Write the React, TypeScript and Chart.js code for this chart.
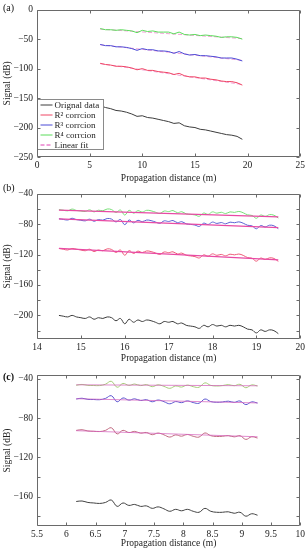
import React, { useEffect, useRef } from "react";
import { Chart, registerables } from "chart.js";
Chart.register(...registerables);

const FONT = "'Liberation Serif', 'Times New Roman', serif";

// ---------- Panel (a) ----------
const DIST_A = [6, 6.5, 7, 7.5, 8, 8.5, 9, 9.5, 10, 10.5, 11, 11.5, 12, 12.5, 13, 13.5, 14, 14.5, 15, 15.5, 16, 16.5, 17, 17.5, 18, 18.5, 19, 19.5];
const ORIG_A = [-163, -166, -168, -171, -172, -174, -177, -181, -180, -183, -184, -186, -188, -190, -193, -192, -197, -199, -200, -203, -204, -206, -208, -210, -212, -213, -215, -220];
const R2_A = [-91, -93, -94, -96, -96, -97, -99, -102, -100, -103, -103, -105, -106, -107, -110, -108, -112, -114, -114, -116, -116, -118, -119, -121, -122, -122, -124, -128];
const R3_A = [-59, -61, -61, -63, -63, -64, -66, -69, -66, -68, -68, -70, -70, -71, -74, -71, -75, -77, -76, -78, -78, -79, -80, -82, -82, -82, -84, -87];
const R4_A = [-32, -34, -34, -35, -34, -35, -36, -39, -35, -37, -36, -38, -38, -38, -41, -38, -42, -43, -42, -44, -43, -44, -45, -47, -46, -46, -47, -50];
const FIT_X_A = [6, 19.5];
const FIT_R2_A = [-91.5, -127];
const FIT_R3_A = [-59.5, -86];
const FIT_R4_A = [-33, -49];

// ---------- Panel (b) ----------
const DIST_B_START = 14.5;
const DIST_B_STEP = 0.1;
const ORIG_B = [-200, -201, -202, -200, -202, -203, -204, -202, -205, -203, -204, -202, -203, -207, -204, -211, -205, -209, -206, -208, -206, -207, -209, -211, -208, -209, -208, -211, -210, -213, -214, -215, -217, -213, -215, -212, -214, -213, -215, -213, -214, -213, -215, -218, -219, -223, -219, -221, -219, -220, -224];
const R2_B = [-112, -113, -114, -112, -113, -114, -115, -113, -116, -114, -115, -112.5, -113.3, -117.2, -114, -120.9, -114.8, -118.6, -115.5, -117.3, -115.2, -116.1, -117.9, -119.8, -116.6, -117.5, -116.4, -119.2, -118.1, -120.9, -121.8, -122.7, -124.5, -120.4, -122.2, -119.1, -121, -119.8, -121.7, -119.5, -120.4, -119.3, -121.1, -124, -124.8, -128.7, -124.6, -126.4, -124.3, -125.1, -129];
const R3_B = [-73, -73.8, -74.6, -72.3, -74.1, -74.9, -75.7, -73.5, -76.2, -74, -74.8, -72.6, -73.4, -77.1, -73.9, -80.7, -74.5, -78.3, -75, -76.8, -74.6, -75.4, -77.2, -78.9, -75.7, -76.5, -75.3, -78.1, -76.8, -79.6, -80.4, -81.2, -83, -78.7, -80.5, -77.3, -79.1, -77.9, -79.6, -77.4, -78.2, -77, -78.8, -81.5, -82.3, -86.1, -81.9, -83.7, -81.4, -82.2, -86];
const R4_B = [-61, -61.7, -62.5, -60.2, -62, -62.7, -63.4, -61.2, -63.9, -61.7, -62.4, -60.1, -60.9, -64.6, -61.4, -68.1, -61.8, -65.6, -62.3, -64.1, -61.8, -62.5, -64.3, -66, -62.8, -63.5, -62.2, -65, -63.7, -66.5, -67.2, -67.9, -69.7, -65.4, -67.2, -63.9, -65.6, -64.4, -66.1, -63.9, -64.6, -63.3, -65.1, -67.8, -68.6, -72.3, -68, -69.8, -67.5, -68.3, -72];
const FIT_X_B = [14.5, 19.5];
const FIT_R2_B = [-112, -127];
const FIT_R3_B = [-73, -84.5];
const FIT_R4_B = [-61.5, -70.5];

// ---------- Panel (c) ----------
const DIST_C_START = 6.17;
const DIST_C_STEP = 0.1;
const ORIG_C = [-165, -164.5, -166, -166.5, -167, -166, -163.5, -170, -166.5, -169, -168, -170, -169.5, -172, -170.5, -172.5, -175, -173, -174.5, -173, -175, -176, -172, -175, -176, -176, -175.5, -177, -176, -180, -177.5, -179];
const R2_C = [-92.5, -91.8, -93.1, -93.4, -93.7, -92.5, -89.8, -96.1, -92.4, -94.7, -93.5, -95.3, -94.6, -96.9, -95.2, -97, -99.3, -97.1, -98.4, -96.7, -98.5, -99.3, -95.1, -97.9, -98.7, -98.5, -97.8, -99.1, -97.9, -101.7, -99, -100.3];
const R3_C = [-60.5, -59.7, -60.9, -61, -61.2, -59.9, -57.1, -63.3, -59.4, -61.6, -60.3, -62, -61.2, -63.3, -61.5, -63.2, -65.4, -63.1, -64.2, -62.4, -64.1, -64.8, -60.5, -63.1, -63.8, -63.5, -62.7, -63.9, -62.5, -66.2, -63.4, -64.6];
const R4_C = [-46.5, -45.6, -46.6, -46.7, -46.8, -45.4, -42.4, -48.5, -44.6, -46.6, -45.2, -46.8, -45.8, -47.9, -46, -47.6, -49.6, -47.2, -48.3, -46.3, -47.9, -48.5, -44, -46.6, -47.2, -46.8, -45.8, -46.9, -45.5, -49, -46.1, -47.2];
const FIT_X_C = [6.17, 9.27];
const FIT_R2_C = [-92.8, -99];
const FIT_R3_C = [-60.2, -64.5];
const FIT_R4_C = [-46, -47];

const LEGEND_LABELS = ["Orignal data", "R\u00B2 corrcion", "R\u00B3 corrcion", "R\u2074 corrcion", "Linear fit"];

const C_BLACK = "#3c3c3c";
const C_RED = "#ef4664";
const C_BLUE = "#4b4bd6";
const C_GREEN = "#5bdc5b";
const C_FIT = "#e040b4";

const gridX = (start: number, step: number, n: number) =>
  Array.from({ length: n }, (_, i) => Math.round((start + i * step) * 100) / 100);

const pts = (xs: number[], ys: number[]) => ys.map((y, i) => ({ x: xs[i], y }));

const fmt = (v: number) => {
  const r = Math.round(v * 10) / 10;
  const s = String(Math.abs(r));
  return r < 0 ? "\u2212" + s : s;
};

const line = (xs: number[], ys: number[], color: string, tension: number, width = 1, dash: number[] = []) => ({
  data: pts(xs, ys),
  borderColor: color,
  backgroundColor: color,
  borderWidth: width,
  borderDash: dash,
  pointRadius: 0,
  tension,
  fill: false,
});

const framePlugin = (label: string, labelY: number, bold: boolean) => ({
  id: "frame-" + label,
  afterDraw(chart: any) {
    const { ctx, chartArea } = chart;
    const xs = chart.scales.x;
    const ys = chart.scales.y;
    const l = Math.round(chartArea.left) + 0.5;
    const r = Math.round(chartArea.right) - 0.5;
    const t = Math.round(chartArea.top) + 0.5;
    const b = Math.round(chartArea.bottom) - 0.5;
    ctx.save();
    ctx.strokeStyle = "#6a6a6a";
    ctx.lineWidth = 1;
    ctx.beginPath();
    ctx.rect(l, t, r - l, b - t);
    const tl = 3;
    xs.ticks.forEach((tk: any) => {
      const px = Math.round(xs.getPixelForValue(tk.value)) + 0.5;
      ctx.moveTo(px, b);
      ctx.lineTo(px, b - tl);
      ctx.moveTo(px, t);
      ctx.lineTo(px, t + tl);
    });
    ys.ticks.forEach((tk: any) => {
      const py = Math.round(ys.getPixelForValue(tk.value)) + 0.5;
      ctx.moveTo(l, py);
      ctx.lineTo(l + tl, py);
      ctx.moveTo(r, py);
      ctx.lineTo(r - tl, py);
    });
    ctx.stroke();
    ctx.fillStyle = "#111";
    ctx.font = (bold ? "bold " : "") + "10px " + FONT;
    ctx.textBaseline = "middle";
    ctx.textAlign = "left";
    ctx.fillText(label, 3, labelY);
    ctx.restore();
  },
});

const legendPlugin = {
  id: "legendA",
  afterDatasetsDraw(chart: any) {
    const { ctx, chartArea } = chart;
    const x0 = Math.round(chartArea.left) + 0.5;
    const y1 = Math.round(chartArea.bottom) - 8 + 0.5;
    const w = 66;
    const h = 50;
    const y0 = y1 - h;
    ctx.save();
    ctx.fillStyle = "#ffffff";
    ctx.fillRect(x0, y0, w, h);
    ctx.strokeStyle = "#8a8a8a";
    ctx.lineWidth = 1;
    ctx.strokeRect(x0, y0, w, h);
    const colors = [C_BLACK, C_RED, C_BLUE, C_GREEN, C_FIT];
    ctx.font = "9px " + FONT;
    ctx.textBaseline = "middle";
    ctx.textAlign = "left";
    LEGEND_LABELS.forEach((lab, i) => {
      const yy = y0 + 5.5 + i * 10;
      ctx.strokeStyle = colors[i];
      ctx.lineWidth = 1;
      ctx.setLineDash(i === 4 ? [4, 2] : []);
      ctx.beginPath();
      ctx.moveTo(x0 + 3, yy);
      ctx.lineTo(x0 + 15, yy);
      ctx.stroke();
      ctx.fillStyle = "#222";
      ctx.fillText(lab, x0 + 17, yy + 0.5);
    });
    ctx.restore();
  },
};

type PanelSpec = {
  height: number;
  padTop: number;
  xAxisH: number;
  xMin: number;
  xMax: number;
  xStep: number;
  yMin: number;
  yMax: number;
  yStep: number;
  yLabelEvery: number;
  datasets: any[];
  label: string;
  labelY: number;
  boldLabel?: boolean;
  legend?: boolean;
};

function Panel({ spec }: { spec: PanelSpec }) {
  const ref = useRef<HTMLCanvasElement | null>(null);
  useEffect(() => {
    if (!ref.current) return;
    const plugins: any[] = [framePlugin(spec.label, spec.labelY, !!spec.boldLabel)];
    if (spec.legend) plugins.push(legendPlugin);
    const chart = new Chart(ref.current, {
      type: "line",
      data: { datasets: spec.datasets },
      plugins,
      options: {
        responsive: false,
        animation: false,
        layout: { padding: { left: 0, right: 7, top: spec.padTop, bottom: 0 } },
        plugins: { legend: { display: false }, tooltip: { enabled: false } },
        scales: {
          x: {
            type: "linear",
            min: spec.xMin,
            max: spec.xMax,
            grid: { display: false, drawTicks: false },
            border: { display: false },
            afterFit: (s: any) => {
              s.height = spec.xAxisH;
            },
            ticks: {
              stepSize: spec.xStep,
              padding: 3,
              maxRotation: 0,
              autoSkip: false,
              includeBounds: false,
              color: "#222",
              font: { family: FONT, size: 9.5 },
              callback: (v: any) => fmt(Number(v)),
            },
            title: {
              display: true,
              text: "Propagation distance (m)",
              color: "#222",
              padding: { top: 0, bottom: 0 },
              font: { family: FONT, size: 9.5 },
            },
          },
          y: {
            type: "linear",
            min: spec.yMin,
            max: spec.yMax,
            grid: { display: false, drawTicks: false },
            border: { display: false },
            afterFit: (s: any) => {
              s.width = 37;
            },
            ticks: {
              stepSize: spec.yStep,
              padding: 4,
              autoSkip: false,
              includeBounds: false,
              color: "#222",
              font: { family: FONT, size: 9.5 },
              callback: (v: any) => {
                const n = Number(v);
                return Math.abs(Math.round(n) % spec.yLabelEvery) === 0 ? fmt(n) : "";
              },
            },
            title: {
              display: true,
              text: "Signal (dB)",
              color: "#222",
              padding: { top: 2, bottom: 0 },
              font: { family: FONT, size: 9.5 },
            },
          },
        },
      } as any,
    });
    return () => chart.destroy();
  }, [spec]);
  return <canvas ref={ref} width={308} height={spec.height} style={{ display: "block" }} />;
}

const DIST_B = gridX(DIST_B_START, DIST_B_STEP, ORIG_B.length);
const DIST_C = gridX(DIST_C_START, DIST_C_STEP, ORIG_C.length);

const SPEC_A: PanelSpec = {
  height: 184,
  padTop: 6,
  xAxisH: 27,
  xMin: 0,
  xMax: 25,
  xStep: 5,
  yMin: -250,
  yMax: 0,
  yStep: 50,
  yLabelEvery: 50,
  label: "(a)",
  labelY: 8,
  legend: true,
  datasets: [
    line(DIST_A, ORIG_A, C_BLACK, 0),
    line(DIST_A, R2_A, C_RED, 0),
    line(DIST_A, R3_A, C_BLUE, 0),
    line(DIST_A, R4_A, C_GREEN, 0),
    line(FIT_X_A, FIT_R2_A, "#ee88cc", 0, 0.8, [4, 2]),
    line(FIT_X_A, FIT_R3_A, "#ee88cc", 0, 0.8, [4, 2]),
    line(FIT_X_A, FIT_R4_A, "#ee88cc", 0, 0.8, [4, 2]),
  ],
};

const SPEC_B: PanelSpec = {
  height: 180,
  padTop: 5,
  xAxisH: 25,
  xMin: 14,
  xMax: 20,
  xStep: 1,
  yMin: -231,
  yMax: -40,
  yStep: 20,
  yLabelEvery: 40,
  label: "(b)",
  labelY: 4,
  datasets: [
    line(FIT_X_B, FIT_R4_B, "#e84aa4", 0, 1.2),
    line(FIT_X_B, FIT_R3_B, "#e84aa4", 0, 1.2),
    line(FIT_X_B, FIT_R2_B, "#e84aa4", 0, 1.2),
    line(DIST_B, ORIG_B, C_BLACK, 0.4),
    line(DIST_B, R2_B, "#ee5a78", 0.4),
    line(DIST_B, R3_B, "#5a62d4", 0.4),
    line(DIST_B, R4_B, "#78e078", 0.4),
  ],
};

const SPEC_C: PanelSpec = {
  height: 185,
  padTop: 11,
  xAxisH: 23,
  xMin: 5.5,
  xMax: 10,
  xStep: 0.5,
  yMin: -190,
  yMax: -36,
  yStep: 20,
  yLabelEvery: 40,
  label: "(c)",
  labelY: 13,
  boldLabel: true,
  datasets: [
    line(FIT_X_C, FIT_R4_C, "rgba(214,100,190,0.75)", 0, 1),
    line(FIT_X_C, FIT_R3_C, "rgba(214,100,190,0.75)", 0, 1),
    line(FIT_X_C, FIT_R2_C, "rgba(214,100,190,0.75)", 0, 1),
    line(DIST_C, ORIG_C, "#404040", 0.4),
    line(DIST_C, R2_C, "#c06a80", 0.4),
    line(DIST_C, R3_C, "#5a55d0", 0.4),
    line(DIST_C, R4_C, "#a5cc78", 0.4),
  ],
};

export default function App() {
  return (
    <div style={{ position: "absolute", left: 0, top: 0, width: 308, height: 550, background: "#fff" }}>
      <Panel spec={SPEC_A} />
      <Panel spec={SPEC_B} />
      <Panel spec={SPEC_C} />
    </div>
  );
}
